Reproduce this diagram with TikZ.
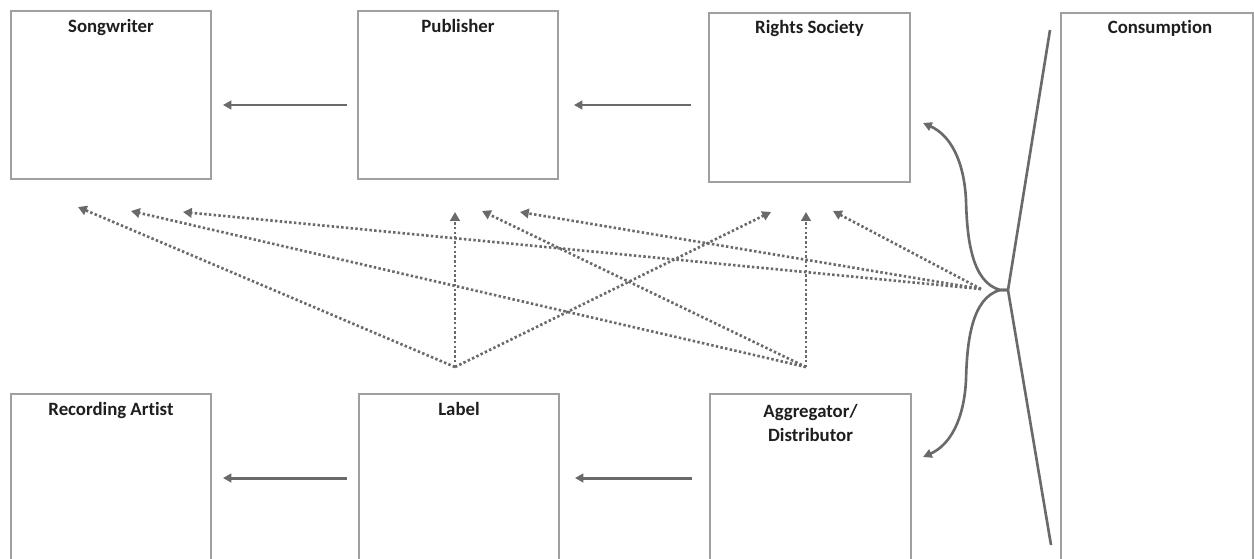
\documentclass[tikz,border=0pt]{standalone}
\usepackage{fontspec}
\setmainfont{Carlito}[Ligatures=NoCommon]
\usetikzlibrary{arrows.meta}
\definecolor{linegray}{HTML}{6A6A6A}
\definecolor{boxgray}{HTML}{A0A0A0}
\definecolor{txt}{HTML}{1E1E1E}
\begin{document}
\begin{tikzpicture}[x=0.02cm,y=-0.02cm,
  box/.style={draw=boxgray,line width=0.9pt,minimum width=4cm,inner sep=0pt,outer sep=0pt,anchor=north west},
  title/.style={font=\bfseries\fontsize{10.7}{13.6}\selectfont,text=txt,anchor=base,align=center,inner sep=0pt},
  flow/.style={draw=linegray,line width=1.7pt,-{Triangle[length=4.8pt,width=5pt]}},
  dots/.style={draw=linegray,line width=1.5pt,dash pattern=on 1.4pt off 1.3pt,-{Triangle[length=5pt,width=5.4pt]}},
  curvearrow/.style={draw=linegray,line width=1.5pt,-{Triangle[length=5pt,width=5pt]}},
  trunk/.style={draw=linegray,line width=1.5pt}]
\useasboundingbox (0,0) rectangle (1254,558);
\clip (0,0) rectangle (1254,558);
% boxes
\node[box,minimum height=3.36cm] (sw) at (11,11) {};
\node[box,minimum height=3.36cm] (pub) at (358,11) {};
\node[box,minimum width=4.02cm,minimum height=3.38cm] (rs) at (709,13) {};
\node[box,minimum width=3.84cm,minimum height=12cm] (con) at (1061,13) {};
\node[box,minimum height=4cm] (ra) at (11,394) {};
\node[box,minimum height=4cm] (lab) at (359,394) {};
\node[box,minimum width=4.02cm,minimum height=4cm] (agg) at (710,394) {};
% titles
\node[title] (swt) at ([yshift=-0.44cm]sw.north) {Songwriter};
\node[title] (pubt) at ([yshift=-0.44cm]pub.north) {Publisher};
\node[title] (rst) at ([yshift=-0.42cm]rs.north) {Rights Society};
\node[title] (cont) at (1160,33) {Consumption};
\node[title] (rat) at ([yshift=-0.42cm]ra.north) {Recording Artist};
\node[title] (labt) at ([yshift=-0.42cm]lab.north) {Label};
\node[title,anchor=north] (aggt) at ([yshift=-0.2cm]agg.north) {Aggregator/\\Distributor};
% rows of the solid flows
\coordinate (top row) at (0,105);
\coordinate (bottom row) at (0,478);
\draw[flow] ([xshift=-0.22cm]pub.west |- top row) -- ([xshift=0.24cm]sw.east |- top row);
\draw[flow] ([xshift=-0.36cm]rs.west |- top row) -- ([xshift=0.32cm]pub.east |- top row);
\draw[flow] ([xshift=-0.24cm]lab.west |- bottom row) -- ([xshift=0.24cm]ra.east |- bottom row);
\draw[flow] ([xshift=-0.36cm]agg.west |- bottom row) -- ([xshift=0.32cm]lab.east |- bottom row);
% trunk and branches
\coordinate (ctop) at (1050,30);
\coordinate (cbot) at (1051,545);
\coordinate (J) at (1008,290);
\coordinate (Jd) at (981,289);
\coordinate (L) at (455,367);
\coordinate (A) at (806,367);
\draw[trunk] (ctop) -- (J) -- (cbot);
\draw[curvearrow] (J) -- (1000,290) .. controls (972,282) and (967,240) .. (966,200)
  .. controls (964,160) and (950,135) .. (923,123);
\draw[curvearrow] (J) -- (1000,290) .. controls (972,298) and (967,340) .. (966,380)
  .. controls (964,420) and (950,445) .. (923,457);
% dotted targets
\coordinate (t1) at (78,207);
\coordinate (t2) at (131,211);
\coordinate (t3) at (183,212);
\coordinate (t4) at (455,212);
\coordinate (t5) at (482,211);
\coordinate (t6) at (520,212);
\coordinate (t7) at (771,212);
\coordinate (t8) at (806,212);
\coordinate (t9) at (833,211);
\draw[dots] (L) -- (t1);
\draw[dots] (L) -- (t4);
\draw[dots] (L) -- (t7);
\draw[dots] (A) -- (t2);
\draw[dots] (A) -- (t5);
\draw[dots] (A) -- (t8);
\draw[dots] (Jd) -- (t3);
\draw[dots] (Jd) -- (t6);
\draw[dots] (Jd) -- (t9);
\end{tikzpicture}
\end{document}
